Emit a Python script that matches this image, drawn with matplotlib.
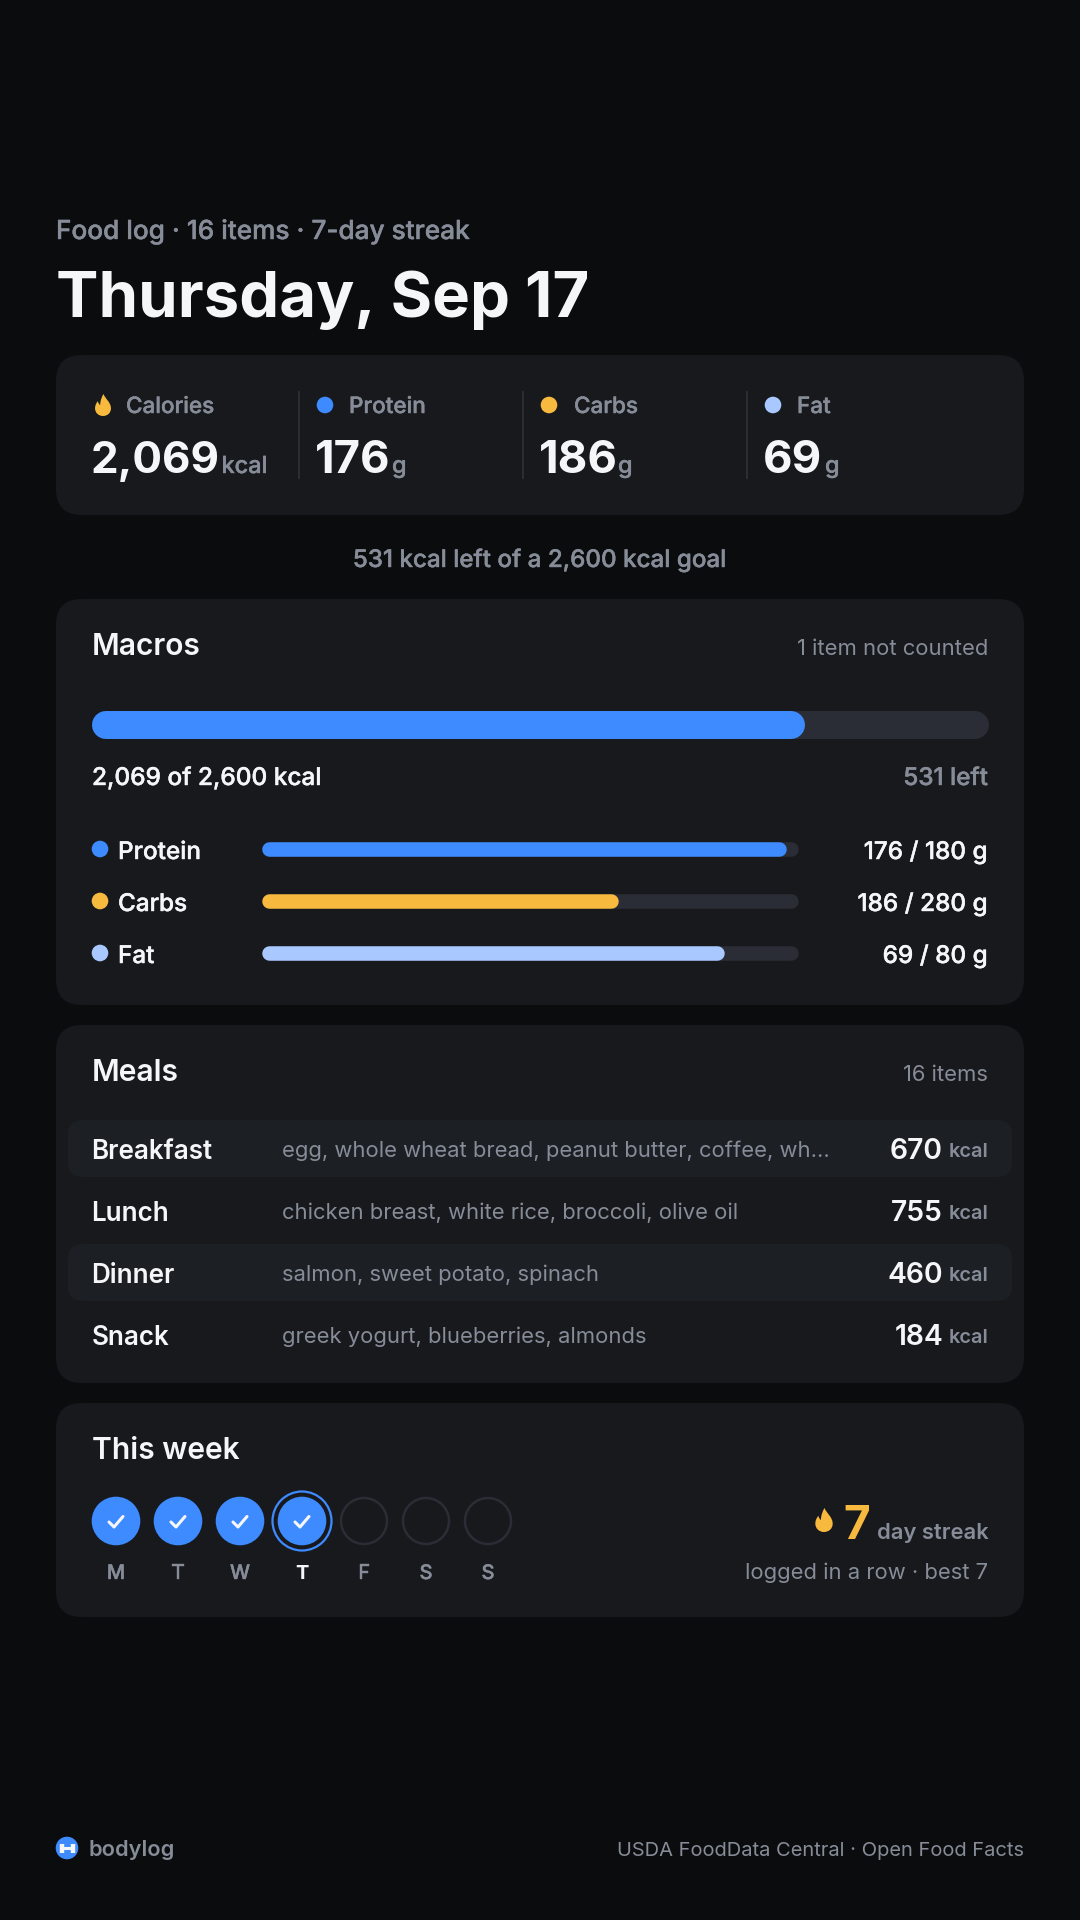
import matplotlib
matplotlib.use('Agg')
import matplotlib.pyplot as plt
import matplotlib.patheffects as pe
from matplotlib.patches import FancyBboxPatch, Circle, PathPatch
from matplotlib.path import Path

# colours
BG = '#0B0C0E'
CARD = '#17191D'
ROW = '#1C1F24'
TRACK = '#2A2D35'
BLUE = '#3D8BFF'
GOLD = '#F7B93E'
SKY = '#A8C8FF'
GRAY = '#868C98'
WHITE = '#F5F6F8'

# data
stat_labels = ['Calories', 'Protein', 'Carbs', 'Fat']
stat_values = ['2,069', '176', '186', '69']
stat_units = ['kcal', 'g', 'g', 'g']
stat_colors = [GOLD, BLUE, GOLD, SKY]

kcal_eaten = 2069
kcal_goal = 2600

macro_names = ['Protein', 'Carbs', 'Fat']
macro_values = [176, 186, 69]
macro_goals = [180, 280, 80]
macro_colors = [BLUE, GOLD, SKY]

meal_names = ['Breakfast', 'Lunch', 'Dinner', 'Snack']
meal_items = ['egg, whole wheat bread, peanut butter, coffee, wh...',
              'chicken breast, white rice, broccoli, olive oil',
              'salmon, sweet potato, spinach',
              'greek yogurt, blueberries, almonds']
meal_kcal = [670, 755, 460, 184]

week_days = ['M', 'T', 'W', 'T', 'F', 'S', 'S']
week_logged = [True, True, True, True, False, False, False]
today_idx = 3

W, H = 1080, 1920
plt.rcParams['font.family'] = ['Inter', 'DejaVu Sans']

fig = plt.figure(figsize=(W / 100, H / 100), dpi=100, facecolor=BG)
ax = fig.add_axes([0, 0, 1, 1])
ax.set_xlim(0, W)
ax.set_ylim(H, 0)
ax.axis('off')


def txt(x, y, s, size, color=WHITE, weight='normal', ha='left', va='baseline'):
    # size in pixels, medium gets a hair of stroke since it renders thin
    t = ax.text(x, y, s, fontsize=size * 0.72, color=color, fontweight=weight, ha=ha, va=va)
    if weight == 'medium':
        t.set_path_effects([pe.withStroke(linewidth=0.3, foreground=color)])


def card(x0, y0, x1, y1, r=26, color=CARD):
    ax.add_patch(FancyBboxPatch((x0 + r, y0 + r), x1 - x0 - 2 * r, y1 - y0 - 2 * r,
                                boxstyle=f'round,pad={r},rounding_size={r}',
                                fc=color, ec='none', lw=0))


def flame(cx, cy, s, color=GOLD):
    # s is the height of the flame
    u = s / 2
    verts = [(0.05, -1.0),
             (0.25, -0.55), (0.85, -0.25), (0.85, 0.3),
             (0.85, 0.75), (0.45, 1.0), (0.0, 1.0),
             (-0.5, 1.0), (-0.85, 0.7), (-0.85, 0.3),
             (-0.85, 0.0), (-0.7, -0.2), (-0.55, -0.35),
             (-0.5, -0.15), (-0.4, -0.05), (-0.3, 0.0),
             (-0.3, -0.4), (-0.15, -0.7), (0.05, -1.0)]
    codes = [Path.MOVETO] + [Path.CURVE4] * 18
    pts = [(cx + a * u * 0.85, cy + b * u) for a, b in verts]
    ax.add_patch(PathPatch(Path(pts, codes), fc=color, ec='none', lw=0))


def progress(x0, x1, yc, thick, value, goal, color):
    # axes x scale runs 0..goal over the whole track, ends pulled in by the round cap
    r = thick / 2
    a = fig.add_axes([x0 / W, 1 - (yc + r) / H, (x1 - x0) / W, thick / H])
    a.set_xlim(0, goal)
    a.set_ylim(-1, 1)
    a.axis('off')
    a.patch.set_alpha(0)
    lw = thick * 0.72
    cap = goal * r / (x1 - x0)
    a.plot([cap, goal - cap], [0, 0], color=TRACK, lw=lw, solid_capstyle='round', clip_on=False)
    a.plot([cap, value - cap], [0, 0], color=color, lw=lw, solid_capstyle='round', clip_on=False)


# header
txt(56, 239, 'Food log · 16 items · 7-day streak', 26.2, GRAY, 'medium')
txt(56, 317, 'Thursday, Sep 17', 63.5, WHITE, 'bold')

# summary card
card(56, 355, 1024, 515)
stat_val_x = [91, 315, 539, 763]
stat_unit_x = [221.5, 392, 618, 825]
for i, name in enumerate(stat_labels):
    if i == 0:
        flame(stat_val_x[i] + 12, 405, 22, stat_colors[i])
    else:
        ax.add_patch(Circle((stat_val_x[i] + 10, 405), 8.3, fc=stat_colors[i], ec='none'))
    txt(stat_val_x[i] + (35 if i % 2 == 0 else 34), 413, name, 22.5, GRAY, 'medium')
    # the long figure is a bit narrower in the original
    txt(stat_val_x[i] - 0.5, 473, stat_values[i], 44 if i == 0 else 45.5, WHITE, 'bold')
    txt(stat_unit_x[i], 473, stat_units[i], 23.5, GRAY, 'medium')
for x in [299, 523, 747]:
    ax.plot([x, x], [391, 479], color=TRACK, lw=1.5, solid_capstyle='butt')

txt(540, 567, f'{kcal_goal - kcal_eaten} kcal left of a {kcal_goal:,} kcal goal', 24.2, GRAY, 'medium', ha='center')

# macros card
card(56, 599, 1024, 1005)
txt(92, 655, 'Macros', 30, WHITE, 'semibold')
txt(988, 655, '1 item not counted', 22, GRAY, ha='right')
progress(92, 988.5, 725, 28, kcal_eaten, kcal_goal, BLUE)
txt(92, 785, f'{kcal_eaten:,} of {kcal_goal:,} kcal', 24.4, WHITE, 'medium')
txt(988, 785, f'{kcal_goal - kcal_eaten} left', 24.3, GRAY, 'medium', ha='right')
for i, name in enumerate(macro_names):
    yc = 849 + i * 52
    ax.add_patch(Circle((100, yc), 8.3, fc=macro_colors[i], ec='none'))
    txt(118, yc + 10, name, 24.3, WHITE, 'medium')
    progress(262, 798, yc, 14.5, macro_values[i], macro_goals[i], macro_colors[i])
    txt(988, yc + 10, f'{macro_values[i]} / {macro_goals[i]} g', 24.3, WHITE, 'medium', ha='right')

# meals card
card(56, 1025, 1024, 1383)
txt(92, 1081, 'Meals', 30, WHITE, 'semibold')
txt(988, 1081, '16 items', 22, GRAY, ha='right')
for i, name in enumerate(meal_names):
    yc = 1149 + i * 62
    if i % 2 == 0:
        card(68, yc - 29, 1012, yc + 28, r=15, color=ROW)
    txt(91.5, yc + 10, name, 26, WHITE, 'semibold')
    txt(282, yc + 8, meal_items[i], 22, GRAY)
    txt(943, yc + 10, str(meal_kcal[i]), 28.3, WHITE, 'semibold', ha='right')
    txt(988, yc + 8, 'kcal', 20, GRAY, 'semibold', ha='right')

# week card
card(56, 1403, 1024, 1617)
txt(92, 1459, 'This week', 30, WHITE, 'semibold')
for i, d in enumerate(week_days):
    cx = 116 + i * 62
    cy = 1521
    if week_logged[i]:
        ax.add_patch(Circle((cx, cy), 24.3, fc=BLUE, ec='none'))
        ax.plot([cx - 7, cx - 2, cx + 7], [cy + 1, cy + 6, cy - 4.5], color=WHITE, lw=2.2,
                solid_capstyle='round', solid_joinstyle='round')
    else:
        ax.add_patch(Circle((cx, cy), 23, fc='none', ec=TRACK, lw=1.8))
    if i == today_idx:
        ax.add_patch(Circle((cx, cy), 29.5, fc='none', ec=BLUE, lw=1.6))
    txt(cx, 1579, d, 20, WHITE if i == today_idx else GRAY, 'bold' if i == today_idx else 'medium', ha='center')

flame(824, 1520, 24)
txt(857, 1539, '7', 46, GOLD, 'bold', ha='center')
txt(988.5, 1539, 'day streak', 22, GRAY, 'semibold', ha='right')
txt(988, 1579, 'logged in a row · best 7', 22, GRAY, ha='right')

# footer
ax.add_patch(Circle((67, 1848), 11.3, fc=BLUE, ec='none'))
for x in [61.5, 72.5]:
    ax.plot([x, x], [1843.5, 1852.5], color=WHITE, lw=3.2, solid_capstyle='butt')
ax.plot([60, 74], [1848, 1848], color=WHITE, lw=2.2, solid_capstyle='butt')
txt(88, 1856, 'bodylog', 21.8, GRAY, 'semibold')
txt(1024, 1856, 'USDA FoodData Central · Open Food Facts', 20.1, GRAY, ha='right')

fig.savefig('out.png', dpi=100, facecolor=BG)
